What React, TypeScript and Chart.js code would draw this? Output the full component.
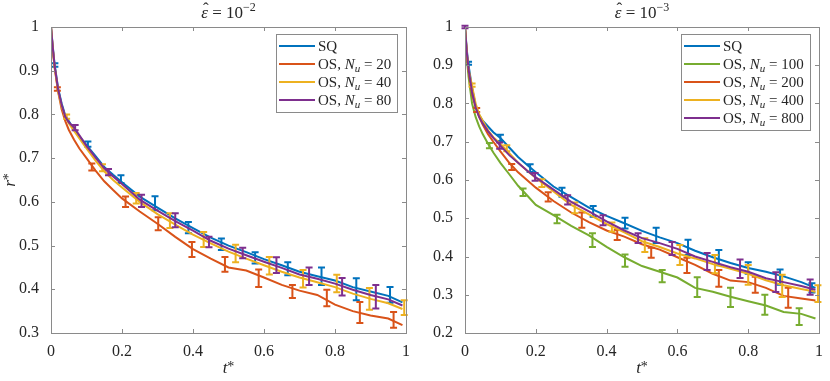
import React, { useEffect, useRef } from "react";
import { Chart, registerables } from "chart.js";

Chart.register(...registerables);

const FONT = '"Liberation Serif", "DejaVu Serif", serif';
const TEXT_COLOR = "#262626";
const AXIS_COLOR = "#8a8a8a";

const BLUE = "#0072BD";
const ORANGE = "#D95319";
const YELLOW = "#EDB120";
const PURPLE = "#7E2F8E";
const GREEN = "#77AC30";

// time grid shared by all curves
const T_GRID = [0, 0.005, 0.01, 0.02, 0.03, 0.04, 0.05, 0.065, 0.08, 0.1, 0.125, 0.15, 0.175, 0.2, 0.25, 0.3, 0.35, 0.4, 0.45, 0.5, 0.55, 0.6, 0.65, 0.7, 0.75, 0.8, 0.85, 0.9, 0.95, 0.99];

const X_TICKS = [0, 0.2, 0.4, 0.6, 0.8, 1];
const Y_TICKS_LEFT = [0.3, 0.4, 0.5, 0.6, 0.7, 0.8, 0.9, 1];
const Y_TICKS_RIGHT = [0.2, 0.3, 0.4, 0.5, 0.6, 0.7, 0.8, 0.9, 1];

// ---- left panel: eps = 1e-2 ----
const LEFT_SQ = [1, 0.955, 0.915, 0.86, 0.825, 0.798, 0.785, 0.765, 0.75, 0.73, 0.705, 0.68, 0.662, 0.645, 0.612, 0.587, 0.562, 0.54, 0.518, 0.5, 0.485, 0.469, 0.455, 0.44, 0.43, 0.42, 0.405, 0.395, 0.385, 0.37];
const LEFT_OS20 = [1, 0.95, 0.908, 0.852, 0.812, 0.785, 0.765, 0.742, 0.722, 0.7, 0.672, 0.647, 0.627, 0.608, 0.578, 0.55, 0.52, 0.492, 0.47, 0.45, 0.443, 0.427, 0.41, 0.397, 0.387, 0.365, 0.35, 0.34, 0.333, 0.318];
const LEFT_OS40 = [1, 0.95, 0.91, 0.853, 0.818, 0.795, 0.78, 0.762, 0.745, 0.722, 0.695, 0.67, 0.65, 0.633, 0.6, 0.572, 0.548, 0.525, 0.505, 0.486, 0.47, 0.455, 0.44, 0.427, 0.416, 0.405, 0.39, 0.378, 0.368, 0.355];
const LEFT_OS80 = [1, 0.953, 0.913, 0.857, 0.822, 0.795, 0.782, 0.77, 0.752, 0.728, 0.702, 0.677, 0.658, 0.641, 0.605, 0.58, 0.556, 0.534, 0.511, 0.493, 0.478, 0.463, 0.449, 0.434, 0.424, 0.413, 0.399, 0.387, 0.377, 0.363];

// error bars: [t, mean, half-width]
const LEFT_SQ_ERR = [[0.011, 0.913, 0.004], [0.104, 0.732, 0.006], [0.197, 0.652, 0.009], [0.293, 0.597, 0.016], [0.387, 0.541, 0.013], [0.48, 0.503, 0.013], [0.575, 0.472, 0.013], [0.667, 0.447, 0.015], [0.762, 0.43, 0.02], [0.86, 0.4, 0.025], [0.955, 0.387, 0.018]];
const LEFT_OS20_ERR = [[0.018, 0.858, 0.004], [0.115, 0.68, 0.008], [0.21, 0.6, 0.012], [0.302, 0.55, 0.015], [0.397, 0.491, 0.017], [0.49, 0.457, 0.017], [0.585, 0.425, 0.02], [0.68, 0.395, 0.015], [0.777, 0.38, 0.019], [0.87, 0.347, 0.024], [0.965, 0.33, 0.018]];
const LEFT_OS40_ERR = [[0.044, 0.795, 0.005], [0.145, 0.678, 0.008], [0.24, 0.608, 0.012], [0.335, 0.557, 0.017], [0.43, 0.514, 0.017], [0.52, 0.482, 0.02], [0.615, 0.454, 0.02], [0.71, 0.424, 0.02], [0.805, 0.413, 0.02], [0.897, 0.378, 0.025], [0.995, 0.358, 0.017]];
const LEFT_OS80_ERR = [[0.068, 0.77, 0.006], [0.162, 0.668, 0.007], [0.255, 0.602, 0.014], [0.35, 0.558, 0.016], [0.445, 0.508, 0.012], [0.54, 0.483, 0.012], [0.635, 0.455, 0.018], [0.727, 0.43, 0.02], [0.82, 0.406, 0.02], [0.915, 0.383, 0.027]];

const LEFT_LABELS = ["SQ", "OS, N_u = 20", "OS, N_u = 40", "OS, N_u = 80"];
const LEFT_EXPONENT = "\u22122";

// ---- right panel: eps = 1e-3 ----
const RIGHT_SQ = [1, 0.94, 0.9, 0.84, 0.795, 0.77, 0.755, 0.74, 0.725, 0.71, 0.685, 0.66, 0.64, 0.62, 0.583, 0.555, 0.528, 0.506, 0.487, 0.467, 0.45, 0.435, 0.415, 0.398, 0.383, 0.37, 0.36, 0.348, 0.333, 0.318];
const RIGHT_OS100 = [1, 0.92, 0.87, 0.8, 0.765, 0.74, 0.72, 0.695, 0.672, 0.645, 0.615, 0.585, 0.56, 0.535, 0.508, 0.48, 0.455, 0.425, 0.398, 0.375, 0.36, 0.345, 0.318, 0.308, 0.295, 0.283, 0.272, 0.255, 0.25, 0.238];
const RIGHT_OS200 = [1, 0.93, 0.885, 0.825, 0.79, 0.765, 0.745, 0.72, 0.7, 0.675, 0.645, 0.62, 0.6, 0.58, 0.545, 0.515, 0.49, 0.468, 0.452, 0.432, 0.418, 0.398, 0.378, 0.355, 0.337, 0.333, 0.318, 0.297, 0.29, 0.285];
const RIGHT_OS400 = [1, 0.935, 0.89, 0.845, 0.8, 0.772, 0.755, 0.73, 0.712, 0.695, 0.67, 0.645, 0.625, 0.605, 0.57, 0.535, 0.51, 0.485, 0.463, 0.44, 0.425, 0.408, 0.395, 0.38, 0.368, 0.355, 0.338, 0.325, 0.315, 0.308];
const RIGHT_OS800 = [1, 0.935, 0.89, 0.83, 0.79, 0.765, 0.748, 0.728, 0.71, 0.69, 0.665, 0.645, 0.625, 0.607, 0.575, 0.543, 0.518, 0.492, 0.468, 0.448, 0.435, 0.42, 0.4, 0.386, 0.372, 0.36, 0.343, 0.333, 0.323, 0.313];

const RIGHT_SQ_ERR = [[0.01, 0.905, 0.004], [0.1, 0.71, 0.008], [0.184, 0.631, 0.01], [0.274, 0.568, 0.012], [0.362, 0.518, 0.014], [0.452, 0.487, 0.014], [0.54, 0.455, 0.02], [0.63, 0.424, 0.02], [0.717, 0.397, 0.02], [0.8, 0.37, 0.015], [0.89, 0.346, 0.02], [0.98, 0.318, 0.012]];
const RIGHT_OS100_ERR = [[0.069, 0.69, 0.007], [0.164, 0.568, 0.01], [0.26, 0.498, 0.011], [0.36, 0.443, 0.018], [0.452, 0.389, 0.016], [0.557, 0.349, 0.016], [0.656, 0.32, 0.026], [0.75, 0.293, 0.025], [0.847, 0.274, 0.026], [0.944, 0.243, 0.022]];
const RIGHT_OS200_ERR = [[0.033, 0.783, 0.005], [0.132, 0.634, 0.008], [0.235, 0.556, 0.012], [0.33, 0.495, 0.02], [0.43, 0.456, 0.013], [0.526, 0.41, 0.013], [0.627, 0.377, 0.02], [0.717, 0.343, 0.022], [0.82, 0.326, 0.021], [0.913, 0.292, 0.026]];
const RIGHT_OS400_ERR = [[0.02, 0.848, 0.004], [0.118, 0.683, 0.008], [0.217, 0.592, 0.01], [0.31, 0.527, 0.014], [0.415, 0.477, 0.012], [0.508, 0.43, 0.018], [0.607, 0.404, 0.026], [0.706, 0.38, 0.024], [0.8, 0.352, 0.026], [0.896, 0.323, 0.029], [0.997, 0.303, 0.022]];
const RIGHT_OS800_ERR = [[0, 1, 0.003], [0.098, 0.69, 0.008], [0.198, 0.608, 0.01], [0.29, 0.548, 0.012], [0.39, 0.495, 0.013], [0.489, 0.448, 0.013], [0.585, 0.421, 0.017], [0.684, 0.387, 0.022], [0.777, 0.368, 0.024], [0.878, 0.333, 0.026], [0.975, 0.32, 0.02]];

const RIGHT_LABELS = ["SQ", "OS, N_u = 100", "OS, N_u = 200", "OS, N_u = 400", "OS, N_u = 800"];
const RIGHT_EXPONENT = "\u22123";

const X_LABEL = "t";
const Y_LABEL = "r";

type Seg = { t: string; it?: boolean; sup?: boolean; sub?: boolean; hat?: boolean; scale?: number; dy?: number };

function segSize(s: Seg, size: number) {
  if (s.scale) return Math.round(size * s.scale);
  return s.sup || s.sub ? Math.round(size * 0.7) : size;
}

function segFont(s: Seg, size: number) {
  return `${s.it ? "italic " : ""}${segSize(s, size)}px ${FONT}`;
}

function measureRich(ctx: CanvasRenderingContext2D, segs: Seg[], size: number) {
  let w = 0;
  for (const s of segs) {
    ctx.font = segFont(s, size);
    w += ctx.measureText(s.t).width;
  }
  return w;
}

function drawRich(ctx: CanvasRenderingContext2D, segs: Seg[], x: number, y: number, size: number, align: "left" | "center") {
  const total = measureRich(ctx, segs, size);
  let cx = align === "center" ? x - total / 2 : x;
  ctx.textAlign = "left";
  ctx.textBaseline = "alphabetic";
  for (const s of segs) {
    ctx.font = segFont(s, size);
    const dy = s.dy !== undefined ? s.dy * size : s.sup ? -size * 0.4 : s.sub ? size * 0.22 : 0;
    const w = ctx.measureText(s.t).width;
    ctx.fillText(s.t, cx, y + dy);
    if (s.hat) {
      ctx.textAlign = "center";
      ctx.font = `${size}px ${FONT}`;
      ctx.fillText("\u02C6", cx + w / 2 + size * 0.08, y - size * 0.2);
      ctx.textAlign = "left";
      ctx.font = segFont(s, size);
    }
    cx += w;
  }
}

function labelSegs(label: string): Seg[] {
  const i = label.indexOf("N_u");
  if (i < 0) return [{ t: label }];
  return [{ t: label.slice(0, i) }, { t: "N", it: true }, { t: "u", it: true, sub: true }, { t: label.slice(i + 3) }];
}

const fmt = (v: number) => String(Math.round(v * 10) / 10);

interface SeriesDef { label: string; color: string; values: number[]; errors: number[][] }

interface PanelProps {
  series: SeriesDef[];
  exponent: string;
  yTicks: number[];
  showYLabel: boolean;
  yWidth: number;
  padRight: number;
}

function makePlugin(p: PanelProps) {
  return {
    id: "matlabStyle",
    afterDatasetDraw(chart: any, args: any) {
      const ds: any = chart.data.datasets[args.index];
      const errs: number[][] = ds.errorBars;
      if (!errs) return;
      const xs = chart.scales.x;
      const ys = chart.scales.y;
      const ctx: CanvasRenderingContext2D = chart.ctx;
      ctx.save();
      ctx.strokeStyle = ds.borderColor;
      ctx.lineWidth = 2;
      ctx.lineCap = "butt";
      for (const [t, r, e] of errs) {
        const x = xs.getPixelForValue(t);
        const y1 = ys.getPixelForValue(r - e);
        const y2 = ys.getPixelForValue(r + e);
        ctx.beginPath();
        ctx.moveTo(x, y1);
        ctx.lineTo(x, y2);
        ctx.moveTo(x - 3.5, y1);
        ctx.lineTo(x + 3.5, y1);
        ctx.moveTo(x - 3.5, y2);
        ctx.lineTo(x + 3.5, y2);
        ctx.stroke();
      }
      ctx.restore();
    },
    afterDraw(chart: any) {
      const ctx: CanvasRenderingContext2D = chart.ctx;
      const a = chart.chartArea;
      const xs = chart.scales.x;
      const ys = chart.scales.y;
      ctx.save();
      // box + inward ticks
      ctx.strokeStyle = AXIS_COLOR;
      ctx.lineWidth = 1;
      ctx.strokeRect(Math.round(a.left) + 0.5, Math.round(a.top) + 0.5, Math.round(a.right - a.left), Math.round(a.bottom - a.top));
      ctx.beginPath();
      for (const v of X_TICKS) {
        const x = Math.round(xs.getPixelForValue(v)) + 0.5;
        ctx.moveTo(x, a.bottom);
        ctx.lineTo(x, a.bottom - 4);
        ctx.moveTo(x, a.top);
        ctx.lineTo(x, a.top + 4);
      }
      for (const v of p.yTicks) {
        const y = Math.round(ys.getPixelForValue(v)) + 0.5;
        ctx.moveTo(a.left, y);
        ctx.lineTo(a.left + 4, y);
        ctx.moveTo(a.right, y);
        ctx.lineTo(a.right - 4, y);
      }
      ctx.stroke();

      ctx.fillStyle = TEXT_COLOR;
      const cx = (a.left + a.right) / 2;
      // title
      drawRich(ctx, [{ t: "\u03B5", it: true, hat: true }, { t: " = 10" }, { t: p.exponent, sup: true }], cx, 17.5, 17, "center");
      // x label
      drawRich(ctx, [{ t: X_LABEL, it: true }, { t: "*", scale: 0.85, dy: -0.12 }], cx, 373, 17, "center");
      // y label
      if (p.showYLabel) {
        ctx.save();
        ctx.translate(15, (a.top + a.bottom) / 2);
        ctx.rotate(-Math.PI / 2);
        drawRich(ctx, [{ t: Y_LABEL, it: true }, { t: "*", scale: 0.85, dy: -0.12 }], 0, 0, 17, "center");
        ctx.restore();
      }

      // legend
      const size = 15;
      const rowH = 18;
      const lineLen = 36;
      const segsList = p.series.map((s) => labelSegs(s.label));
      const textW = Math.max(...segsList.map((sg) => measureRich(ctx, sg, size)));
      const boxW = Math.round(3 + lineLen + 3 + textW + 6);
      const boxH = p.series.length * rowH + 6;
      const bx = Math.round(a.right - 9 - boxW);
      const by = Math.round(a.top + 7);
      ctx.fillStyle = "#ffffff";
      ctx.fillRect(bx, by, boxW, boxH);
      ctx.strokeStyle = AXIS_COLOR;
      ctx.lineWidth = 1;
      ctx.strokeRect(bx + 0.5, by + 0.5, boxW, boxH);
      p.series.forEach((s, i) => {
        const ry = by + 3 + rowH * (i + 0.5);
        ctx.strokeStyle = s.color;
        ctx.lineWidth = 2.2;
        ctx.beginPath();
        ctx.moveTo(bx + 3, ry);
        ctx.lineTo(bx + 3 + lineLen, ry);
        ctx.stroke();
        ctx.fillStyle = TEXT_COLOR;
        drawRich(ctx, segsList[i], bx + 3 + lineLen + 3, ry + 5, size, "left");
      });
      ctx.restore();
    },
  };
}

function Panel(p: PanelProps) {
  const ref = useRef<HTMLCanvasElement | null>(null);
  useEffect(() => {
    if (!ref.current) return;
    const n = p.series.length;
    const datasets = p.series.map((s, i) => ({
      label: s.label,
      data: T_GRID.map((t, k) => ({ x: t, y: s.values[k] })),
      borderColor: s.color,
      backgroundColor: s.color,
      borderWidth: 2,
      pointRadius: 0,
      tension: 0,
      fill: false,
      order: n - 1 - i,
      errorBars: s.errors,
    }));
    const yMin = p.yTicks[0];
    const yMax = p.yTicks[p.yTicks.length - 1];
    const chart = new Chart(ref.current, {
      type: "line",
      data: { datasets } as any,
      options: {
        animation: false,
        responsive: false,
        devicePixelRatio: 1,
        layout: { padding: { left: 0, right: p.padRight, top: 27, bottom: 0 } },
        plugins: { legend: { display: false }, title: { display: false }, tooltip: { enabled: false } },
        scales: {
          x: {
            type: "linear",
            min: 0,
            max: 1,
            afterBuildTicks: (s: any) => {
              s.ticks = X_TICKS.map((v) => ({ value: v }));
            },
            afterFit: (s: any) => {
              s.height = 48;
            },
            ticks: { callback: (v: any) => fmt(Number(v)), font: { family: FONT, size: 16 }, color: TEXT_COLOR, padding: 1, maxRotation: 0, autoSkip: false },
            grid: { display: false },
            border: { display: false },
          },
          y: {
            type: "linear",
            min: yMin,
            max: yMax,
            afterBuildTicks: (s: any) => {
              s.ticks = p.yTicks.map((v) => ({ value: v }));
            },
            afterFit: (s: any) => {
              s.width = p.yWidth;
            },
            ticks: { callback: (v: any) => fmt(Number(v)), font: { family: FONT, size: 16 }, color: TEXT_COLOR, padding: 4, autoSkip: false },
            grid: { display: false },
            border: { display: false },
          },
        },
      } as any,
      plugins: [makePlugin(p) as any],
    });
    return () => chart.destroy();
  }, []);
  return (
    <div style={{ width: 415, height: 381, position: "relative" }}>
      <canvas ref={ref} width={415} height={381} style={{ width: 415, height: 381, display: "block" }} />
    </div>
  );
}

const LEFT_SERIES: SeriesDef[] = [
  { label: LEFT_LABELS[0], color: BLUE, values: LEFT_SQ, errors: LEFT_SQ_ERR },
  { label: LEFT_LABELS[1], color: ORANGE, values: LEFT_OS20, errors: LEFT_OS20_ERR },
  { label: LEFT_LABELS[2], color: YELLOW, values: LEFT_OS40, errors: LEFT_OS40_ERR },
  { label: LEFT_LABELS[3], color: PURPLE, values: LEFT_OS80, errors: LEFT_OS80_ERR },
];

const RIGHT_SERIES: SeriesDef[] = [
  { label: RIGHT_LABELS[0], color: BLUE, values: RIGHT_SQ, errors: RIGHT_SQ_ERR },
  { label: RIGHT_LABELS[1], color: GREEN, values: RIGHT_OS100, errors: RIGHT_OS100_ERR },
  { label: RIGHT_LABELS[2], color: ORANGE, values: RIGHT_OS200, errors: RIGHT_OS200_ERR },
  { label: RIGHT_LABELS[3], color: YELLOW, values: RIGHT_OS400, errors: RIGHT_OS400_ERR },
  { label: RIGHT_LABELS[4], color: PURPLE, values: RIGHT_OS800, errors: RIGHT_OS800_ERR },
];

export default function App() {
  return (
    <div style={{ position: "absolute", left: 0, top: 0, width: 830, height: 381, display: "flex", background: "#ffffff" }}>
      <Panel series={LEFT_SERIES} exponent={LEFT_EXPONENT} yTicks={Y_TICKS_LEFT} showYLabel={true} yWidth={51} padRight={9} />
      <Panel series={RIGHT_SERIES} exponent={RIGHT_EXPONENT} yTicks={Y_TICKS_RIGHT} showYLabel={false} yWidth={50} padRight={11} />
    </div>
  );
}
